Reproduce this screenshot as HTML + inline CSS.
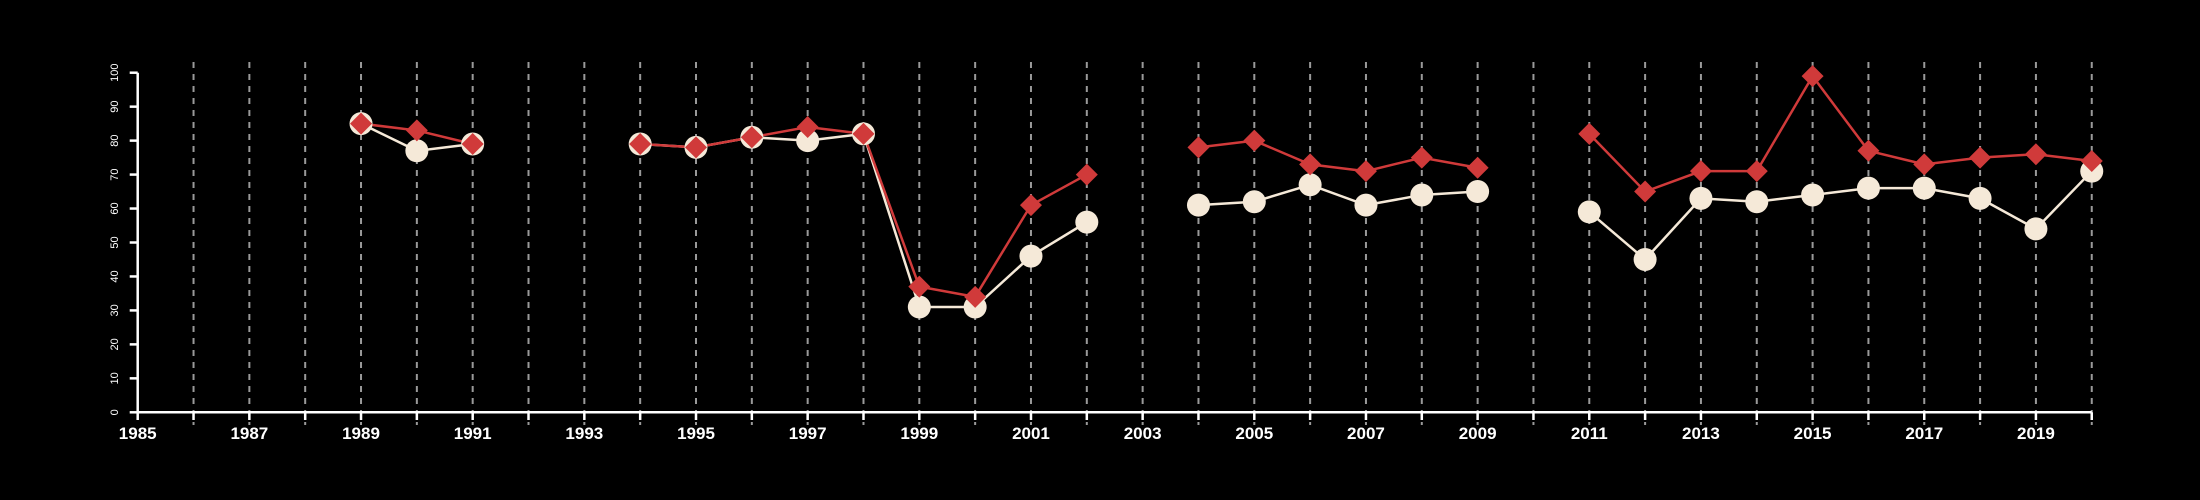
<!DOCTYPE html>
<html><head><meta charset="utf-8"><style>
html,body{margin:0;padding:0;background:#000;}
svg{display:block;font-family:"Liberation Sans",sans-serif;}
</style></head><body>
<svg id="chart" width="2200" height="500" xmlns="http://www.w3.org/2000/svg">
<rect width="2200" height="500" fill="#000"/>
<g id="grid"></g>
<g id="axes"></g>
<g id="series"></g>
</svg>
<script>
const years = [1989,1990,1991,1992,1993,1994,1995,1996,1997,1998,1999,2000,2001,2002,2003,2004,2005,2006,2007,2008,2009,2010,2011,2012,2013,2014,2015,2016,2017,2018,2019,2020];
const whiteSeries = [85,77,79,null,null,79,78,81,80,82,31,31,46,56,null,61,62,67,61,64,65,null,59,45,63,62,64,66,66,63,54,71];
const redSeries = [85,83,79,null,null,79,78,81,84,82,37,34,61,70,null,78,80,73,71,75,72,null,82,65,71,71,99,77,73,75,76,74];
const yTicks = [0,10,20,30,40,50,60,70,80,90,100];
const xLabels = [1985,1987,1989,1991,1993,1995,1997,1999,2001,2003,2005,2007,2009,2011,2013,2015,2017,2019];

const NS = "http://www.w3.org/2000/svg";
const x = yr => 137.7 + (yr - 1985) * 55.83;
const y = v => 412.3 - v * 3.396;
function mk(tag, attrs, parent){const e=document.createElementNS(NS,tag);for(const k in attrs)e.setAttribute(k,attrs[k]);parent.appendChild(e);return e;}
const grid=document.getElementById('grid'), axes=document.getElementById('axes'), ser=document.getElementById('series');

for(let yr=1986; yr<=2020; yr++){
  const l=mk('line',{x1:x(yr),x2:x(yr),y1:62,y2:425,stroke:'#9a9a9a','stroke-width':2,'stroke-dasharray':'6,6'},grid);
  
  
}
const xa=mk('line',{x1:x(1985),x2:x(2020),y1:412.3,y2:412.3,stroke:'#fff','stroke-width':2.5},axes);


const ya=mk('line',{x1:x(1985),x2:x(1985),y1:y(100),y2:y(0),stroke:'#fff','stroke-width':2.5},axes);


for(let yr=1985; yr<=2020; yr++){
  const t=mk('line',{x1:x(yr),x2:x(yr),y1:412.3,y2:420,stroke:'#fff','stroke-width':2.5},axes);
  
  
}
xLabels.forEach(yr=>{
  const t=mk('text',{x:x(yr),y:439,fill:'#fff','font-size':17,'font-weight':'bold','text-anchor':'middle'},axes);
  t.textContent=yr;
  
  
});
yTicks.forEach(v=>{
  const t=mk('line',{x1:x(1985)-8,x2:x(1985),y1:y(v),y2:y(v),stroke:'#fff','stroke-width':2.5},axes);
  
  
  const tx=mk('text',{x:0,y:0,fill:'#fff','font-size':11,'text-anchor':'middle',transform:`translate(118,${y(v)}) rotate(-90)`},axes);
  tx.textContent=v;
  
  
});

function drawLine(vals,color,name){
  let seg=[];
  const flush=()=>{ if(seg.length>1){const p=mk('polyline',{points:seg.join(' '),fill:'none',stroke:color,'stroke-width':2.5},ser);
    
    } seg=[]; };
  vals.forEach((v,i)=>{ if(v===null){flush();} else seg.push(x(years[i])+','+y(v)); });
  flush();
}
drawLine(whiteSeries,'#f5e9d8','white-series');
drawLine(redSeries,'#d03a3a','red-series');
whiteSeries.forEach((v,i)=>{ if(v===null)return;
  const c=mk('circle',{cx:x(years[i]),cy:y(v),r:11.5,fill:'#f5e9d8'},ser);
  
  
});
redSeries.forEach((v,i)=>{ if(v===null)return;
  const cx=x(years[i]), cy=y(v), d=11;
  const p=mk('polygon',{points:`${cx},${cy-d} ${cx+d},${cy} ${cx},${cy+d} ${cx-d},${cy}`,fill:'#d03a3a'},ser);
  
  
});
</script>
</body></html>
